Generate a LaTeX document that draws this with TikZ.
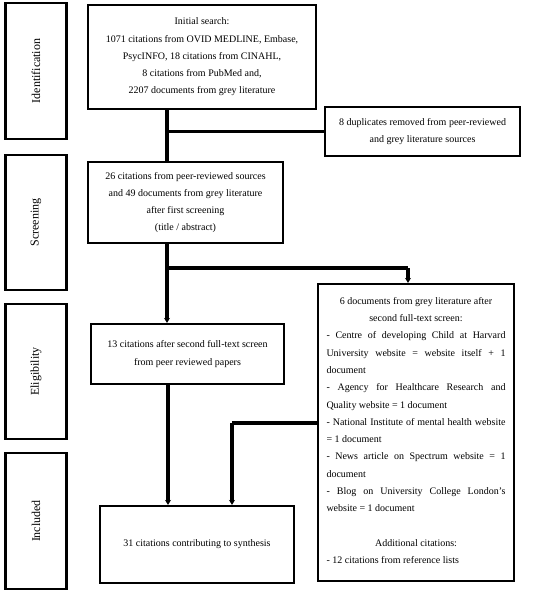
\documentclass[tikz,border=0pt]{standalone}
\usepackage{fontspec}
\setmainfont{Liberation Serif}
\usetikzlibrary{arrows.meta}
\begin{document}
\begin{tikzpicture}[x=1pt,y=-1pt,
  box/.style={draw,line width=2.2pt,align=center,inner sep=0pt,font=\fontsize{10}{17.3}\selectfont},
  phase/.style={draw,line width=2.2pt,minimum width=61pt,inner sep=0pt},
  phasetext/.style={rotate=90,font=\fontsize{12}{14}\selectfont},
  conn/.style={line width=3.2pt},
  arr/.style={line width=3.2pt,-{Stealth[length=5pt,width=6pt]}}]
\useasboundingbox (0,0) rectangle (550,594);
% phase boxes
\node[phase,minimum height=136pt] (pid) at (36,71) {};
\node[phasetext] at (pid.center) {Identification};
\node[phase,minimum height=135pt] (psc) at (36,222.5) {};
\node[phasetext] at (psc.center) {Screening};
\node[phase,minimum height=135pt] (pel) at (36,371.5) {};
\node[phasetext] at (pel.center) {Eligibility};
\node[phase,minimum height=136pt] (pin) at (36,521) {};
\node[phasetext] at (pin.center) {Included};
% main boxes
\node[box,minimum width=228pt,minimum height=104pt] (init) at (202,57)
 {Initial search:\\1071 citations from OVID MEDLINE, Embase,\\PsycINFO, 18 citations from CINAHL,\\8 citations from PubMed and,\\2207 documents from grey literature};
\node[box,minimum width=195pt,minimum height=49pt] (dup) at (422.5,131.5)
 {8 duplicates removed from peer-reviewed\\and grey literature sources};
\node[box,minimum width=195pt,minimum height=81pt] (scr) at (185.5,202.5)
 {26 citations from peer-reviewed sources\\and 49 documents from grey literature\\after first screening\\(title / abstract)};
\node[box,minimum width=193pt,minimum height=60pt] (elig) at (187.5,354)
 {13 citations after second full-text screen\\from peer reviewed papers};
\node[box,minimum width=196pt,minimum height=297pt] (docs) at (416,432.5) {};
\node[align=justify,text width=179pt,inner sep=0pt,font=\fontsize{10}{17.3}\selectfont] (docstext) at (416,430.5)
 {\hyphenpenalty=10000\exhyphenpenalty=10000
 {\centering 6 documents from grey literature after\\ second full-text screen:\par}
 - Centre of developing Child at Harvard\linebreak University website = website itself + 1\linebreak document\par
 - Agency for Healthcare Research and\linebreak Quality website = 1 document\par
 - National Institute of mental health website\linebreak = 1 document\par
 - News article on Spectrum website = 1\linebreak document\par
 - Blog on University College London’s\linebreak website = 1 document\par
 \vspace{17.3pt}
 {\centering Additional citations:\par}
 - 12 citations from reference lists};
\node[box,minimum width=194pt,minimum height=77pt] (incl) at (197,544.5)
 {31 citations contributing to synthesis};
% connectors
\coordinate (t1) at (167,0);
\coordinate (t2) at (168,0);
\coordinate (br) at (167,268);
\coordinate (bx) at (408,268);
\coordinate (lx) at (232,423);
\draw[conn] (init.south -| t1) -- (scr.north -| t1);
\draw[conn] (t1 |- dup.west) -- (dup.west);
\draw[arr] (scr.south -| t1) -- (elig.north -| t1);
\draw[conn] (br) -- (bx);
\draw[arr] (bx) -- (docs.north -| bx);
\draw[arr] (elig.south -| t2) -- (incl.north -| t2);
\draw[conn] (docs.west |- lx) -- (lx);
\draw[arr] (lx) -- (incl.north -| lx);
\end{tikzpicture}
\end{document}
